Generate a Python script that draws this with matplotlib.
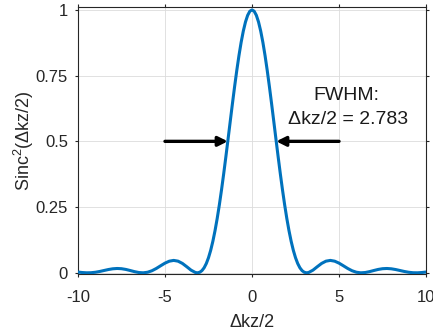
import numpy as np
import matplotlib.pyplot as plt

plt.rcParams['font.family'] = ['Liberation Sans', 'DejaVu Sans']
plt.rcParams['mathtext.fontset'] = 'custom'
plt.rcParams['mathtext.rm'] = 'Liberation Sans'
plt.rcParams['mathtext.it'] = 'Liberation Sans'
plt.rcParams['axes.unicode_minus'] = False

# sampled curve values, x >= 0 (the curve is symmetric)
x_half = [0.0, 0.125, 0.25, 0.375, 0.5, 0.625, 0.75, 0.875, 1.0, 1.125,
          1.25, 1.375, 1.5, 1.625, 1.75, 1.875, 2.0, 2.125, 2.25, 2.375,
          2.5, 2.625, 2.75, 2.875, 3.0, 3.125, 3.25, 3.5, 3.75, 4.0, 4.25,
          4.5, 4.75, 5.0, 5.25, 5.5, 5.75, 6.0, 6.25, 6.5, 6.75, 7.0, 7.25,
          7.5, 7.75, 8.0, 8.25, 8.5, 8.75, 9.0, 9.25, 9.5, 9.75, 10.0]
y_half = [1.0, 0.994803, 0.97934, 0.953997, 0.919395, 0.876386, 0.826012,
          0.769468, 0.708073, 0.643230, 0.576366, 0.508907, 0.442221,
          0.377587, 0.316157, 0.258928, 0.206705, 0.160121, 0.119585,
          0.085310, 0.057307, 0.035404, 0.019262, 0.008397, 0.002213,
          0.000028, 0.001108, 0.010045, 0.023231, 0.035797, 0.044346,
          0.047188, 0.044258, 0.036781, 0.026767, 0.016456, 0.007814,
          0.002169, 0.000028, 0.001095, 0.004445, 0.008809, 0.012889,
          0.015642, 0.016470, 0.015294, 0.012506, 0.008825, 0.005098,
          0.002097, 0.000355, 0.000063, 0.001067, 0.002960]

x = np.concatenate([-np.array(x_half[:0:-1]), x_half])
y = np.concatenate([y_half[:0:-1], y_half])

half_width = 1.3916  # FWHM / 2
arrow_start = 5
fwhm_line1 = 'FWHM:'
fwhm_line2 = 'Δkz/2 = 2.783'

fig = plt.figure(figsize=(4.33, 3.33), dpi=100)
ax = fig.add_axes([0.180, 0.176, 0.804, 0.803])

ax.plot(x, y, color='#0072BD', lw=2.2, zorder=3)

for side in (-1, 1):
    ax.annotate('', xy=(side * half_width, 0.5),
                xytext=(side * arrow_start, 0.5),
                arrowprops=dict(arrowstyle='-|>', color='black', lw=2.4,
                                mutation_scale=14, shrinkA=0, shrinkB=0))
ax.text(5.45, 0.657, fwhm_line1, ha='center', va='baseline', fontsize=14,
        color='#1a1a1a')
ax.text(5.5, 0.566, fwhm_line2, ha='center', va='baseline', fontsize=14,
        color='#1a1a1a')

ax.set_xlim(-10, 10)
ax.set_ylim(-0.006, 1.011)
ax.set_xticks([-10, -5, 0, 5, 10])
ax.set_yticks([0, 0.25, 0.5, 0.75, 1])
ax.set_yticklabels(['0', '0.25', '0.5', '0.75', '1'])
ax.grid(True, color='#dcdcdc', lw=0.6)
ax.set_axisbelow(True)
ax.tick_params(direction='out', top=True, right=True, length=2.2,
               width=0.8, labelsize=12, colors='#262626')
ax.tick_params(axis='x', pad=9)
ax.tick_params(axis='y', pad=5)
for s in ax.spines.values():
    s.set_color('#262626')
    s.set_linewidth(0.8)

ax.set_xlabel('Δkz/2', fontsize=13, color='#262626', labelpad=6.5)
ax.set_ylabel('Sinc$^2$(Δkz/2)', fontsize=13, color='#262626', labelpad=0)

fig.savefig('out.png', dpi=100)
